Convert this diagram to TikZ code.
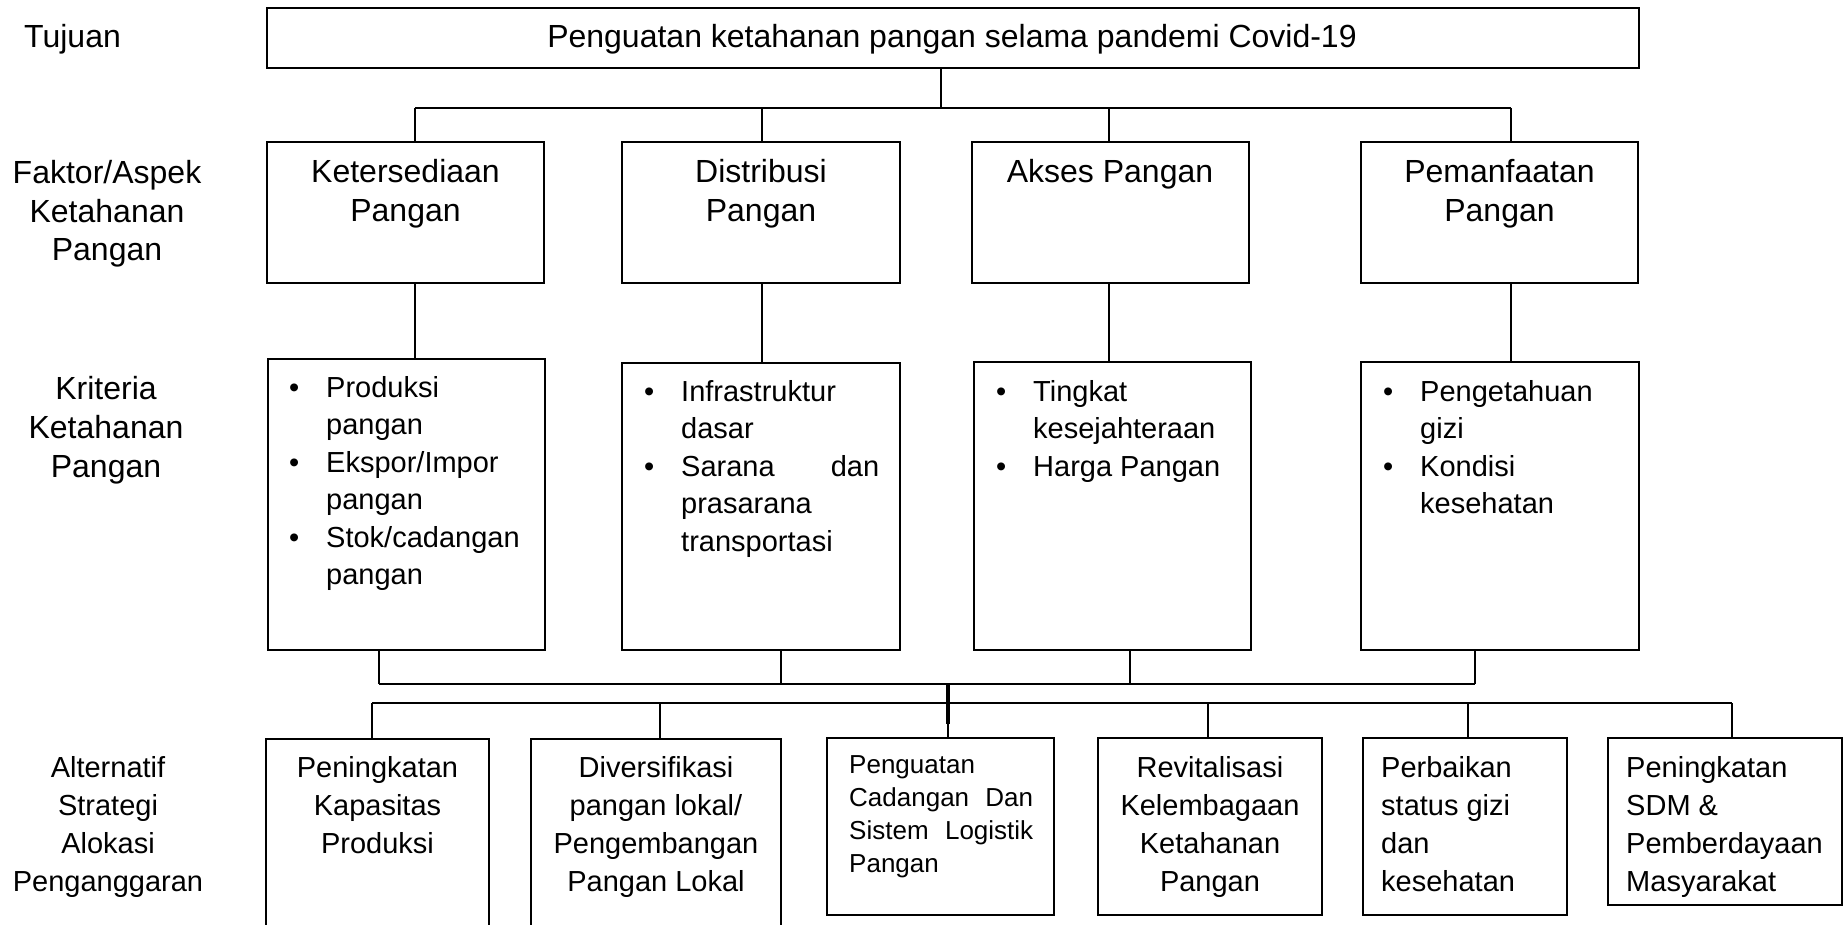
\documentclass[tikz,border=0pt]{standalone}
\usepackage{fontspec}
\setmainfont{Liberation Sans}
\newcommand\ctr[1]{\vtop{\halign{\hfil##\hfil\cr#1\crcr}}}
\newcommand\lft[1]{\vtop{\halign{##\hfil\cr#1\crcr}}}
\newcommand\bul{\llap{\textbullet\hspace{27pt}}}
\tikzset{
  box/.style={draw, line width=2.2pt, inner sep=0pt, outer sep=0pt, anchor=north west},
  conn/.style={line width=1.3pt},
  thickconn/.style={line width=3.4pt},
  lab/.style={inner sep=0pt, anchor=base, font=\fontsize{32}{38.5}\selectfont},
  lablw/.style={lab, anchor=base west},
  bl/.style={inner sep=0pt, anchor=base west, font=\fontsize{29}{37.5}\selectfont},
  sm/.style={inner sep=0pt, anchor=base, font=\fontsize{29}{38.3}\selectfont},
  smw/.style={sm, anchor=base west},
  tiny/.style={inner sep=0pt, anchor=base west, font=\fontsize{26}{33.3}\selectfont},
}
\begin{document}
\begin{tikzpicture}[x=1pt,y=-1pt]
\useasboundingbox (0,0) rectangle (1844,925);
\fill[white] (0,0) rectangle (1844,925);
\clip (0,0) rectangle (1844,925);

% boxes
\node[box, minimum width=1372pt, minimum height=60pt] (t) at (267,8) {};
\node[box, minimum width=277pt, minimum height=141pt] (k1) at (267,142) {};
\node[box, minimum width=278pt, minimum height=141pt] (k2) at (622,142) {};
\node[box, minimum width=277pt, minimum height=141pt] (k3) at (972,142) {};
\node[box, minimum width=277pt, minimum height=141pt] (k4) at (1361,142) {};
\node[box, minimum width=277pt, minimum height=291pt] (c1) at (268,359) {};
\node[box, minimum width=278pt, minimum height=287pt] (c2) at (622,363) {};
\node[box, minimum width=277pt, minimum height=288pt] (c3) at (974,362) {};
\node[box, minimum width=278pt, minimum height=288pt] (c4) at (1361,362) {};
\node[box, minimum width=223pt, minimum height=240pt] (s1) at (266,739) {};
\node[box, minimum width=250pt, minimum height=240pt] (s2) at (531,739) {};
\node[box, minimum width=227pt, minimum height=177pt] (s3) at (827,738) {};
\node[box, minimum width=224pt, minimum height=177pt] (s4) at (1098,738) {};
\node[box, minimum width=204pt, minimum height=177pt] (s5) at (1363,738) {};
\node[box, minimum width=234pt, minimum height=167pt] (s6) at (1608,738) {};

% junction coordinates
\coordinate (j0) at (941,108);
\coordinate (a1) at (415,108);
\coordinate (a2) at (762,108);
\coordinate (a3) at (1109,108);
\coordinate (a4) at (1511,108);
\coordinate (b1) at (379,684);
\coordinate (b2) at (781,684);
\coordinate (b3) at (1130,684);
\coordinate (b4) at (1475,684);
\coordinate (m) at (948,684);
\coordinate (m2) at (948,724);
\coordinate (d1) at (372,703);
\coordinate (d2) at (660,703);
\coordinate (d4) at (1208,703);
\coordinate (d5) at (1468,703);
\coordinate (d6) at (1732,703);

% connectors
\draw[conn] (t.south -| j0) -- (j0);
\draw[conn] (a1) -- (a4);
\foreach \i in {1,2,3,4} {
  \draw[conn] (a\i) -- (a\i |- k\i.north);
  \draw[conn] (k\i.south -| a\i) -- (c\i.north -| a\i);
  \draw[conn] (c\i.south -| b\i) -- (b\i);
}
\draw[conn] (b1) -- (b4);
\draw[thickconn] (m) -- (m2);
\draw[conn] (m2) -- (s3.north -| m2);
\draw[conn] (d1) -- (d6);
\foreach \i in {1,2,4,5,6} {
  \draw[conn] (d\i) -- (d\i |- s\i.north);
}

% texts
\node[lablw] (lt) at (24,48) {Tujuan};
\node[lab] (tt) at (952,48) {Penguatan ketahanan pangan selama pandemi Covid-19};
\node[lab] (lf) at (107,184) {\ctr{Faktor/Aspek\cr Ketahanan\cr Pangan}};
\node[lab] (k1t) at (405.5,183) {\ctr{Ketersediaan\cr Pangan}};
\node[lab] (k2t) at (761,183) {\ctr{Distribusi\cr Pangan}};
\node[lab] (k3t) at (1110,183) {Akses Pangan};
\node[lab] (k4t) at (1499.5,183) {\ctr{Pemanfaatan\cr Pangan}};

\node[lab, font=\fontsize{32}{39}\selectfont] (lk) at (106,399) {\ctr{Kriteria\cr Ketahanan\cr Pangan}};
\node[bl] (c1t) at (326,397) {\lft{\bul Produksi\cr pangan\cr \bul Ekspor/Impor\cr pangan\cr \bul Stok/cadangan\cr pangan}};
\node[bl] (c2t) at (681,401) {\lft{\bul Infrastruktur\cr dasar\cr \bul\hbox to 198pt{Sarana\hfill dan}\cr prasarana\cr transportasi}};
\node[bl] (c3t) at (1033,401) {\lft{\bul Tingkat\cr kesejahteraan\cr \bul Harga Pangan}};
\node[bl] (c4t) at (1420,401) {\lft{\bul Pengetahuan\cr gizi\cr \bul Kondisi\cr kesehatan}};

\node[sm] (la) at (108,777) {\ctr{Alternatif\cr Strategi\cr Alokasi\cr Penganggaran}};
\node[sm] (s1t) at (377.5,777) {\ctr{Peningkatan\cr Kapasitas\cr Produksi}};
\node[sm] (s2t) at (656,777) {\ctr{Diversifikasi\cr pangan lokal/\cr Pengembangan\cr Pangan Lokal}};
\node[tiny] (s3t) at (849,773) {\lft{Penguatan\cr \hbox to 184pt{Cadangan\hfill Dan}\cr \hbox to 184pt{Sistem\hfill Logistik}\cr Pangan}};
\node[sm] (s4t) at (1210,777) {\ctr{Revitalisasi\cr Kelembagaan\cr Ketahanan\cr Pangan}};
\node[smw] (s5t) at (1381,777) {\lft{Perbaikan\cr status gizi\cr dan\cr kesehatan}};
\node[smw] (s6t) at (1626,777) {\lft{Peningkatan\cr SDM \&\cr Pemberdayaan\cr Masyarakat}};
\end{tikzpicture}
\end{document}
